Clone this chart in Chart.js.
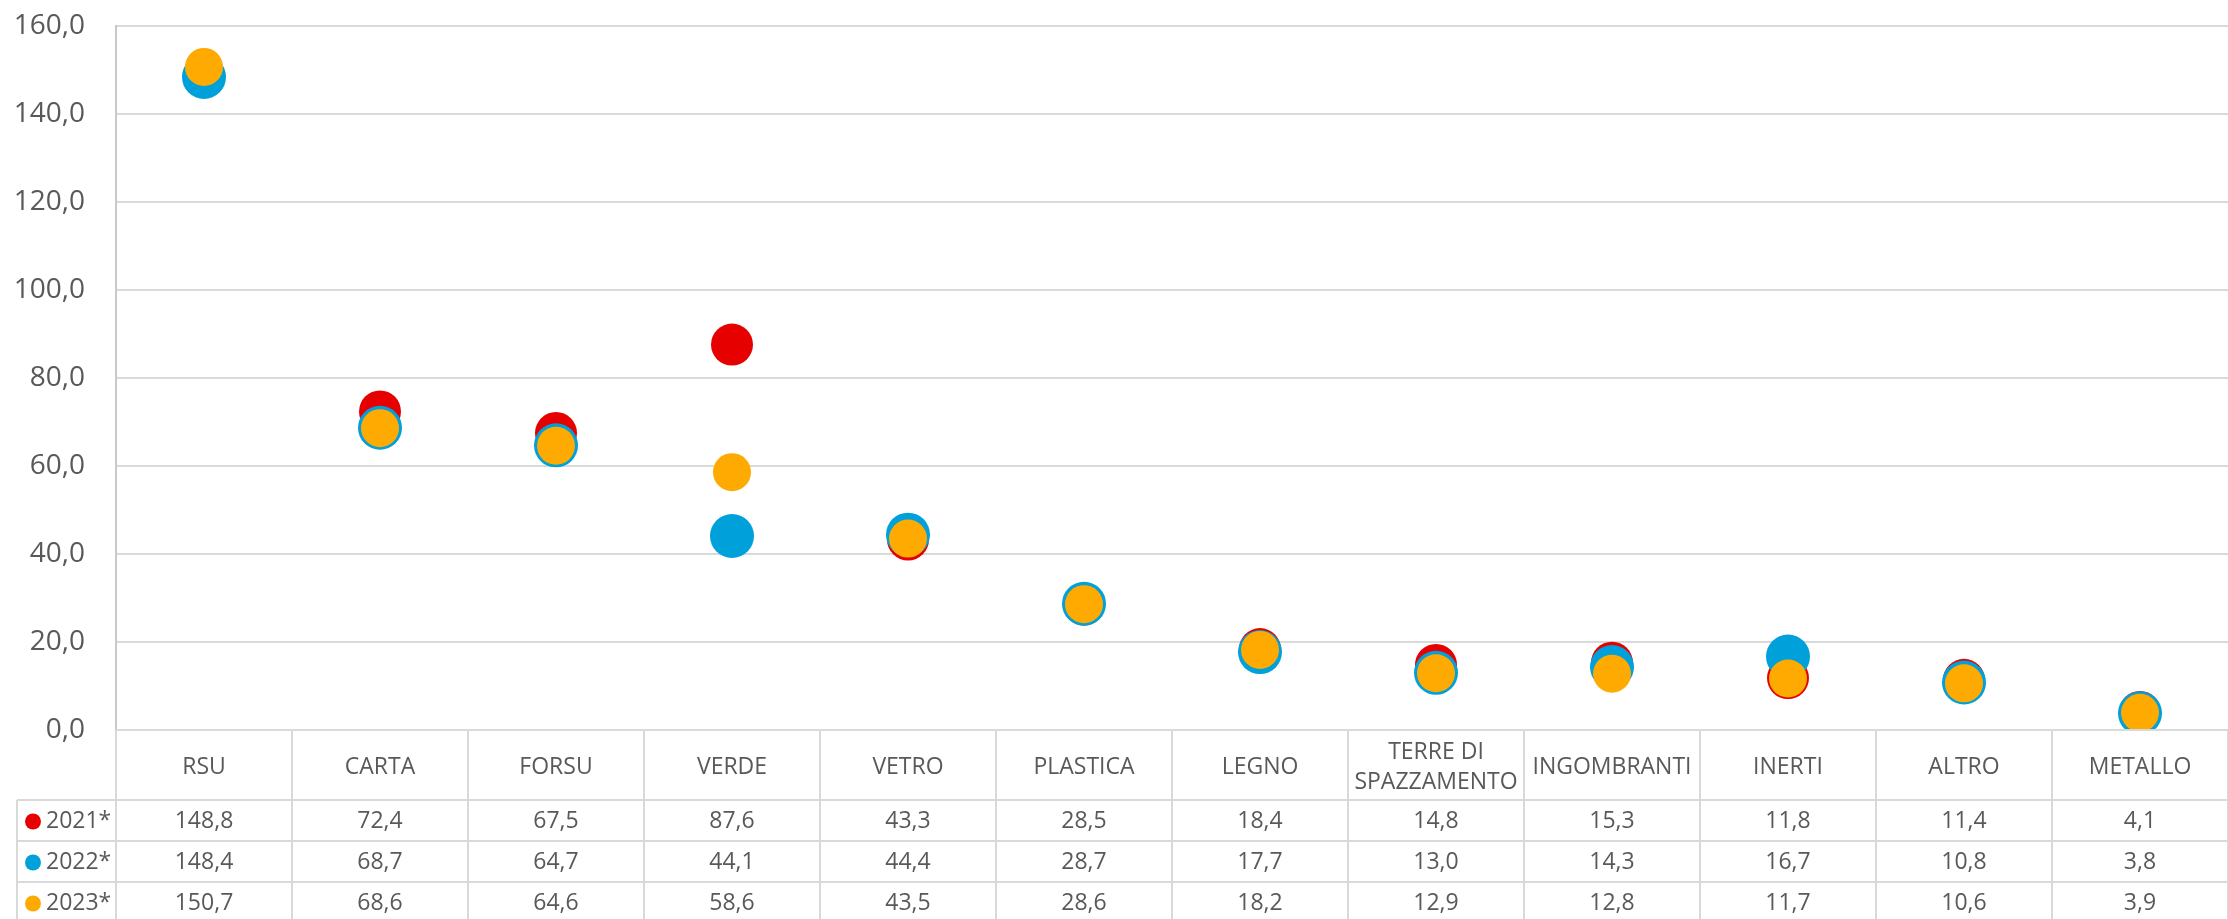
<!DOCTYPE html>
<html>
<head>
<meta charset="utf-8">
<script src="https://cdn.jsdelivr.net/npm/chart.js@4"></script>
<style>
  html, body { margin: 0; padding: 0; background: #fff; overflow: hidden; }
  #wrap { width: 2250px; height: 919px; }
</style>
</head>
<body>
<div id="wrap"><canvas id="rifiutiChart" width="2250" height="919"></canvas></div>
<script>
// categorie e valori (kg/ab)
const categorie = ['RSU', 'CARTA', 'FORSU', 'VERDE', 'VETRO', 'PLASTICA', 'LEGNO',
  ['TERRE DI', 'SPAZZAMENTO'], 'INGOMBRANTI', 'INERTI', 'ALTRO', 'METALLO'];
const anni = ['2021*', '2022*', '2023*'];
const valori2021 = [148.8, 72.4, 67.5, 87.6, 43.3, 28.5, 18.4, 14.8, 15.3, 11.8, 11.4, 4.1];
const valori2022 = [148.4, 68.7, 64.7, 44.1, 44.4, 28.7, 17.7, 13.0, 14.3, 16.7, 10.8, 3.8];
const valori2023 = [150.7, 68.6, 64.6, 58.6, 43.5, 28.6, 18.2, 12.9, 12.8, 11.7, 10.6, 3.9];
const tickMin = 0, tickMax = 160, tickStep = 20;

const colori = ['#e60000', '#00a0da', '#ffaa00'];
const grigio = '#d9d9d9';
const testo = '#595959';
const font = '"Open Sans", "Noto Sans", sans-serif';

function formatta(v) {
  return v.toFixed(1).replace('.', ',');
}

// Tabella dati sotto il grafico
const tabellaDati = {
  id: 'tabellaDati',
  afterDraw(chart) {
    const c = chart.ctx;
    const x = chart.scales.x;
    const area = chart.chartArea;
    const n = categorie.length;
    const w = (area.right - area.left) / n;
    const top = area.bottom;
    const headH = 70, rowH = 41;
    const legLeft = area.left - 99;
    const bottom = top + headH + rowH * 3 + 2;
    const serie = [valori2021, valori2022, valori2023];

    c.save();
    c.strokeStyle = grigio;
    c.lineWidth = 2;
    c.beginPath();
    // linee orizzontali
    c.moveTo(area.left, top); c.lineTo(area.right, top);
    for (let r = 0; r <= 3; r++) {
      const y = top + headH + r * rowH;
      c.moveTo(legLeft, y); c.lineTo(area.right, y);
    }
    // linee verticali
    for (let i = 0; i <= n; i++) {
      const xx = area.left + i * w;
      c.moveTo(xx, top); c.lineTo(xx, bottom);
    }
    c.moveTo(legLeft, top + headH); c.lineTo(legLeft, bottom);
    c.stroke();

    c.fillStyle = testo;
    c.font = '23px ' + font;
    c.textAlign = 'center';
    c.textBaseline = 'middle';
    categorie.forEach((cat, i) => {
      const cx = x.getPixelForValue(i);
      if (Array.isArray(cat)) {
        c.fillText(cat[0], cx, top + 22);
        c.fillText(cat[1], cx, top + 52);
      } else {
        c.fillText(cat, cx, top + 37);
      }
    });

    serie.forEach((vals, r) => {
      const cy = top + headH + r * rowH + rowH / 2 + 1;
      vals.forEach((v, i) => {
        c.fillStyle = testo;
        c.textAlign = 'center';
        c.fillText(formatta(v), x.getPixelForValue(i), cy);
      });
      // legenda
      c.fillStyle = colori[r];
      c.beginPath();
      c.arc(legLeft + 16, cy, 8, 0, Math.PI * 2);
      c.fill();
      c.fillStyle = testo;
      c.textAlign = 'left';
      c.fillText(anni[r], legLeft + 29, cy);
    });
    c.restore();
  }
};

const ctx = document.getElementById('rifiutiChart').getContext('2d');
const rifiutiChart = new Chart(ctx, {
  type: 'line',
  data: {
    labels: categorie,
    datasets: [
      { label: anni[0], data: valori2021, order: 3, pointRadius: 21 },
      { label: anni[1], data: valori2022, order: 2, pointRadius: 22 },
      { label: anni[2], data: valori2023, order: 1, pointRadius: 19 }
    ].map((d, i) => Object.assign(d, {
      showLine: false,
      backgroundColor: colori[i],
      borderColor: colori[i],
      pointBackgroundColor: colori[i],
      pointBorderWidth: 0,
      pointHoverRadius: d.pointRadius
    }))
  },
  options: {
    responsive: false,
    animation: false,
    layout: { padding: { top: 26, right: 3, bottom: 189, left: 0 } },
    plugins: {
      legend: { display: false },
      tooltip: { enabled: false }
    },
    scales: {
      x: {
        type: 'category',
        offset: true,
        display: false
      },
      y: {
        min: tickMin,
        max: tickMax,
        afterFit(scale) {
          scale.width = 116;
          scale.paddingTop = 0;
          scale.paddingBottom = 0;
        },
        ticks: {
          stepSize: tickStep,
          padding: 31,
          color: testo,
          font: { family: font, size: 28 },
          callback: v => formatta(v)
        },
        grid: { color: grigio, lineWidth: 2, drawTicks: false },
        border: { display: true, color: '#c8c8c8', width: 2 }
      }
    }
  },
  plugins: [tabellaDati]
});
</script>
</body>
</html>
